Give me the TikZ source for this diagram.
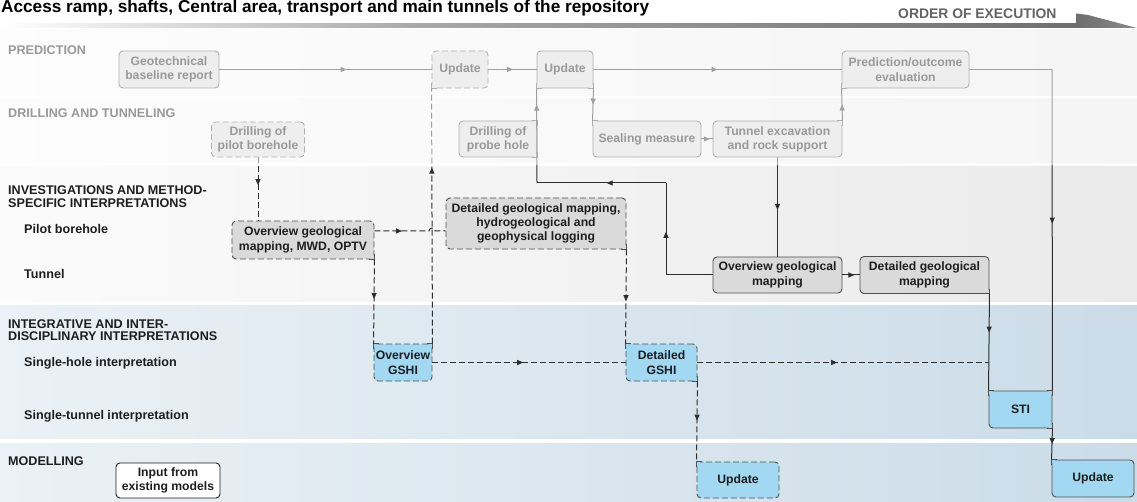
\documentclass[tikz,border=0pt]{standalone}
\usepackage{fontspec}
\setmainfont{Liberation Sans}
\usetikzlibrary{arrows.meta,decorations.markings,calc}
\definecolor{lineC}{HTML}{2E2E2E}
\definecolor{bordC}{HTML}{505050}
\definecolor{greyF}{HTML}{DADADA}
\definecolor{blueF}{HTML}{A3D8F3}
\definecolor{bandGL}{HTML}{FBFBFB}
\definecolor{bandGR}{HTML}{EAEAEA}
\definecolor{bandBL}{HTML}{EBF1F6}
\definecolor{bandBR}{HTML}{CBDCE8}
\definecolor{barM}{HTML}{A8A8A8}
\definecolor{barD}{HTML}{6E6E6E}
\definecolor{txtC}{HTML}{1E1E1E}
\newcommand\nodefnt{\fontsize{12.2pt}{14.3pt}\selectfont\bfseries}
\newcommand\labfnt{\fontsize{12.6pt}{13.3pt}\selectfont\bfseries}
% square corner patch: #1 node.anchor, #2 x-direction, #3 y-direction (canvas), #4 fill, #5 style
\newcommand\sqc[5]{\filldraw[fill=#4,#5] ([xshift=#2*5pt]#1) -- (#1) -- ([yshift=#3*5pt]#1);}
\begin{document}
\begin{tikzpicture}[x=1pt,y=-1pt,
  box/.style={draw=bordC, line width=0.9pt, rounded corners=4pt, inner sep=0pt,
    align=center, font=\nodefnt, text=txtC, fill=greyF},
  dbox/.style={box, dash pattern=on 6pt off 3pt},
  bbox/.style={box, fill=blueF},
  dbbox/.style={dbox, fill=blueF},
  corner/.style={draw=bordC, line width=0.9pt},
  conn/.style={draw=lineC, line width=1pt},
  dconn/.style={conn, dash pattern=on 6pt off 3pt},
  ma/.style={postaction={decorate,decoration={markings,
    mark=at position #1 with {\arrow{Triangle[length=6pt,width=5pt]}}}}},
  lab/.style={anchor=base west, inner sep=0pt, font=\labfnt, text=txtC},
]
\useasboundingbox (0,0) rectangle (1137,502);
\fill[white] (0,0) rectangle (1137,502);

% bands
\shade[left color=bandGL, right color=bandGR] (0,30) rectangle (1137,96);
\shade[left color=bandGL, right color=bandGR] (0,99) rectangle (1137,163);
\shade[left color=bandGL, right color=bandGR] (0,167) rectangle (1137,302);
\shade[left color=bandBL, right color=bandBR] (0,306) rectangle (1137,438);
\shade[left color=bandBL, right color=bandBR] (0,443) rectangle (1137,502);

% band labels
\node[lab] (lpred) at (8,55) {PREDICTION};
\node[lab] (ldrill) at (8,118) {DRILLING AND TUNNELING};
\node[lab] (linv1) at (8,194.5) {INVESTIGATIONS AND METHOD-};
\node[lab] (linv2) at (8,207.5) {SPECIFIC INTERPRETATIONS};
\node[lab] (lpilot) at (24,234) {Pilot borehole};
\node[lab] (ltun) at (24,279) {Tunnel};
\node[lab] (lint1) at (8,328) {INTEGRATIVE AND INTER-};
\node[lab] (lint2) at (8,341) {DISCIPLINARY INTERPRETATIONS};
\node[lab] (lsh) at (24,366.5) {Single-hole interpretation};
\node[lab] (lst) at (24,419) {Single-tunnel interpretation};
\node[lab] (lmod) at (8,465.5) {MODELLING};

% nodes
\node[box, minimum width=100pt, minimum height=37pt] (gbr) at (169,69.5) {Geotechnical\\baseline report};
\node[dbox, minimum width=56pt, minimum height=37pt] (upd1) at (460,69.5) {Update};
\node[box, minimum width=56pt, minimum height=37pt] (upd2) at (565,69.5) {Update};
\node[box, minimum width=127pt, minimum height=37pt] (poe) at (905.5,69.5) {Prediction/outcome\\evaluation};
\node[dbox, minimum width=93pt, minimum height=35pt] (dpb) at (258,139.5) {Drilling of\\pilot borehole};
\node[box, minimum width=78pt, minimum height=36pt] (dph) at (498,139) {Drilling of\\probe hole};
\node[box, minimum width=108pt, minimum height=36pt] (seal) at (647,139) {Sealing measure};
\node[box, minimum width=129pt, minimum height=36pt] (tex) at (777.5,139) {Tunnel excavation\\and rock support};
\node[dbox, minimum width=142pt, minimum height=38pt] (mwd) at (303,240) {Overview geological\\mapping, MWD, OPTV};
\node[dbox, minimum width=180pt, minimum height=51pt] (dgm) at (536,223.5) {Detailed geological mapping,\\hydrogeological and\\geophysical logging};
\node[box, minimum width=129pt, minimum height=36pt] (ogm) at (777.5,275) {Overview geological\\mapping};
\node[box, minimum width=129pt, minimum height=37pt] (dgm2) at (924.5,275) {Detailed geological\\mapping};
\node[dbbox, minimum width=58pt, minimum height=37pt] (ogshi) at (403,362.5) {Overview\\GSHI};
\node[dbbox, minimum width=71pt, minimum height=37pt] (dgshi) at (661.5,362.5) {Detailed\\GSHI};
\node[bbox, minimum width=63pt, minimum height=37pt] (sti) at (1020.5,409.5) {STI};
\node[dbbox, minimum width=82pt, minimum height=36pt] (upd3) at (738,480) {Update};
\node[bbox, minimum width=82pt, minimum height=37pt] (upd4) at (1093,478.5) {Update};
\node[box, fill=white, draw=txtC, minimum width=104pt, minimum height=35pt] (inp) at (168,480.5) {Input from\\existing models};

% square corners where connectors meet the boxes
\sqc{upd1.south west}{1}{1}{greyF}{corner}
\sqc{upd2.south west}{1}{1}{greyF}{corner}
\sqc{upd2.south east}{-1}{1}{greyF}{corner}
\sqc{poe.south west}{1}{1}{greyF}{corner}
\sqc{dph.north east}{-1}{-1}{greyF}{corner}
\sqc{dph.south east}{-1}{1}{greyF}{corner}
\sqc{seal.north west}{1}{-1}{greyF}{corner}
\sqc{tex.north east}{-1}{-1}{greyF}{corner}
\sqc{mwd.south east}{-1}{1}{greyF}{corner}
\sqc{dgm.south east}{-1}{1}{greyF}{corner}
\sqc{dgm2.south east}{-1}{1}{greyF}{corner}
\sqc{ogshi.north west}{1}{-1}{blueF}{corner}
\sqc{ogshi.north east}{-1}{-1}{blueF}{corner}
\sqc{dgshi.north west}{1}{-1}{blueF}{corner}
\sqc{dgshi.south east}{-1}{1}{blueF}{corner}
\sqc{sti.north west}{1}{-1}{blueF}{corner}
\sqc{sti.north east}{-1}{-1}{blueF}{corner}
\sqc{sti.south east}{-1}{1}{blueF}{corner}
\sqc{upd3.north west}{1}{-1}{blueF}{corner}
\sqc{upd4.north west}{1}{-1}{blueF}{corner}

% connectors
\coordinate (c1) at (1052,69.5);
\draw[conn,ma=0.6] (gbr.east) -- (upd1.west);
\draw[conn,ma=0.51] (upd1.east) -- (upd2.west);
\draw[conn,ma=0.5] (upd2.east) -- (poe.west);
\draw[conn] (poe.east) -- (c1);
\draw[conn,ma=0.48] (c1) -- (sti.north east);
\draw[conn,ma=0.5] (sti.south east) -- (upd4.north west);

\draw[dconn,ma=0.44] (dpb.south) -- (dpb.south |- mwd.north);
\coordinate (h1) at (429,231);
\coordinate (h2) at (435,231);
\draw[dconn,ma=0.37] (mwd.east |- h1) -- (h1) arc[start angle=180,end angle=360,radius=3] -- (dgm.west |- h2);
\draw[dconn,ma=0.69] (ogshi.north east) -- (upd1.south west);
\draw[dconn,ma=0.47] (mwd.south east) -- (ogshi.north west);
\draw[dconn,ma=0.55] (dgm.south east) -- (dgshi.north west);
\draw[dconn,ma=0.47] (ogshi.east) -- (dgshi.west);
\coordinate (k1) at (sti.north west |- dgshi.east);
\draw[dconn,ma=0.48] (dgshi.east) -- (k1);
\draw[dconn,ma=0.49] (dgshi.south east) -- (upd3.north west);
\draw[conn,ma=0.4] (dgm2.south east) -- (sti.north west);
\draw[conn,ma=0.53] (tex.south) -- (ogm.north);
\coordinate (o1) at (666,275);
\coordinate (o2) at (666,183);
\coordinate (o3) at (537,183);
\draw[conn] (ogm.west) -- (o1);
\draw[conn,ma=0.47] (o1) -- (o2);
\draw[conn,ma=0.46] (o2) -- (o3);
\draw[conn,ma=0.83] (o3) -- (upd2.south west);
\draw[conn,ma=0.5] (upd2.south east) -- (seal.north west);
\draw[conn,ma=0.75] (seal.east) -- (tex.west);
\draw[conn,ma=0.5] (tex.north east) -- (poe.south west);
\draw[conn,ma=0.7] (ogm.east) -- (dgm2.west);

% fade of the first two rows
\fill[white, opacity=0.55] (0,29) rectangle (1137,165);

% title and order of execution
\node[anchor=base west, inner sep=0pt, font=\fontsize{17.2pt}{19pt}\selectfont\bfseries, text=black] (title) at (1,12.8)
  {Access ramp, shafts, Central area, transport and main tunnels of the repository};
\shade[left color=white, right color=barM] (0,23.5) rectangle (420,28);
\shade[left color=barM, right color=barD] (420,23.5) rectangle (1076.5,28);
\shade[left color=barD, right color=barD!80!white] (1076,13.5) -- (1088,15) -- (1137,28) -- (1076,28) -- cycle;
\node[anchor=base west, inner sep=0pt, font=\fontsize{13.9pt}{15pt}\selectfont\bfseries, text=barD!90!black] (order) at (898,18.3) {ORDER OF EXECUTION};
\end{tikzpicture}
\end{document}
